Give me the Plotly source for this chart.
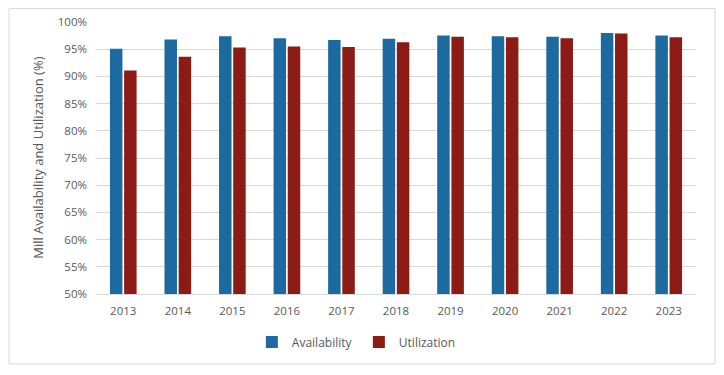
import plotly.graph_objects as go

years = ["2013", "2014", "2015", "2016", "2017", "2018", "2019", "2020", "2021", "2022", "2023"]
availability = [95.1, 96.8, 97.4, 97.0, 96.7, 96.9, 97.5, 97.4, 97.3, 98.0, 97.5]
utilization = [91.1, 93.6, 95.3, 95.5, 95.4, 96.3, 97.3, 97.2, 97.0, 97.9, 97.2]
tick_vals = [50, 55, 60, 65, 70, 75, 80, 85, 90, 95, 100]
tick_text = [f"{v}%" for v in tick_vals]

font_family = "Open Sans, Liberation Sans, sans-serif"
grey = "#595959"

fig = go.Figure()
fig.add_trace(go.Bar(x=years, y=availability, name="Availability",
                     marker=dict(color="#1C6A9F", line=dict(width=0))))
fig.add_trace(go.Bar(x=years, y=utilization, name="Utilization",
                     marker=dict(color="#8C1B16", line=dict(width=0))))

fig.update_layout(
    width=716, height=367,
    margin=dict(l=88, r=28, t=14, b=81, autoexpand=False),
    paper_bgcolor="white", plot_bgcolor="white",
    barmode="group", bargap=0.48, bargroupgap=0.12,
    font=dict(family=font_family, size=11, color=grey),
    showlegend=True,
    legend=dict(orientation="h", xref="container", yref="container",
                x=0.49, xanchor="center", y=0.09, yanchor="middle",
                font=dict(size=12, color=grey), itemwidth=30, traceorder="normal",
                entrywidth=62, tracegroupgap=0, itemsizing="constant"),
    xaxis=dict(showgrid=False, showline=True, linecolor="#d9d9d9", linewidth=1,
               ticks="", tickfont=dict(size=11.5, color=grey), automargin=False,
               ticklabelstandoff=6),
    yaxis=dict(range=[50, 100], tickvals=tick_vals, ticktext=tick_text,
               showgrid=True, gridcolor="#d9d9d9", gridwidth=1,
               zeroline=False, showline=False, ticks="", automargin=False,
               tickfont=dict(size=11.5, color=grey), ticklabelstandoff=8),
    annotations=[dict(text="Mill Availability and Utilization (%)",
                      xref="paper", yref="paper", x=-0.097, y=0.5,
                      xanchor="center", yanchor="middle", textangle=-90,
                      showarrow=False, font=dict(size=13, color=grey))],
    shapes=[dict(type="rect", xref="paper", yref="paper",
                 x0=-0.145, x1=1.0317, y0=-0.257, y1=1.0496,
                 line=dict(color="#d9d9d9", width=1), layer="below")],
)

fig.write_html("out.html")
